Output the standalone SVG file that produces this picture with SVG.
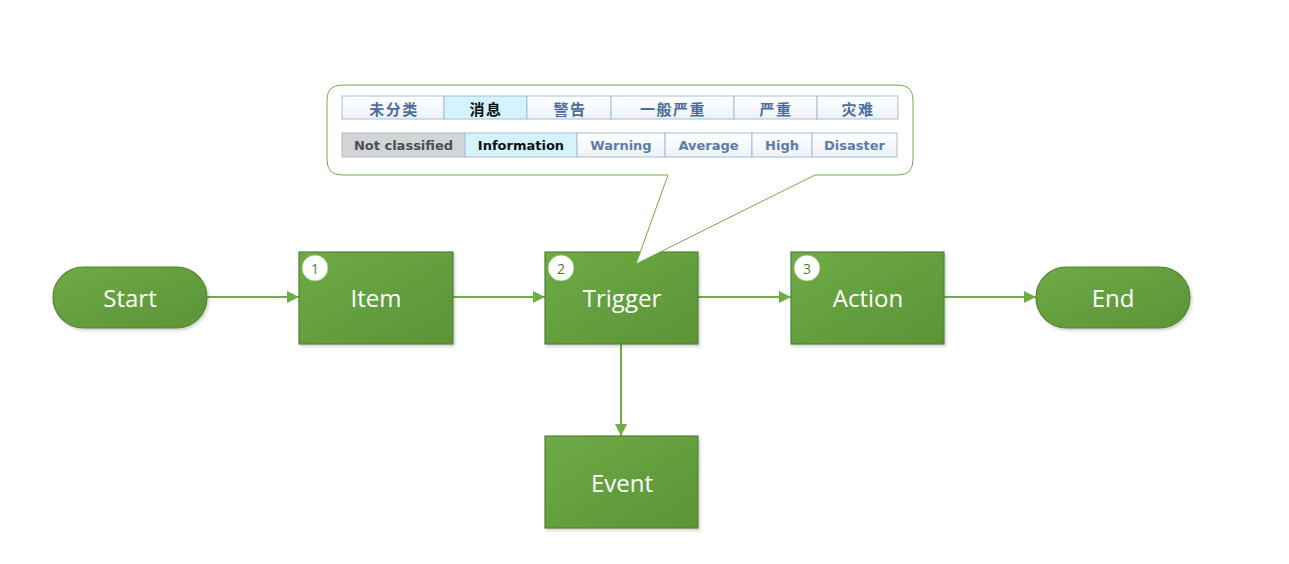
<svg xmlns="http://www.w3.org/2000/svg" width="1289" height="564" viewBox="0 0 1289 564">
<defs>
<linearGradient id="g" x1="0" y1="0" x2="1" y2="1">
<stop offset="0" stop-color="#6dab45"/>
<stop offset="1" stop-color="#5c9338"/>
</linearGradient>
<linearGradient id="cell" x1="0" y1="0" x2="0" y2="1">
<stop offset="0" stop-color="#ffffff"/>
<stop offset="1" stop-color="#edf2f8"/>
</linearGradient>
<filter id="sh" x="-10%" y="-10%" width="130%" height="130%">
<feDropShadow dx="1.5" dy="2" stdDeviation="1.5" flood-color="#000" flood-opacity="0.18"/>
</filter>
<marker id="arr" viewBox="0 0 12 12" refX="12" refY="6" markerWidth="12" markerHeight="12" markerUnits="userSpaceOnUse" orient="auto">
<path d="M0,0 L12,6 L0,12 z" fill="#70ad47"/>
</marker>
<style>
.node{fill:url(#g);stroke:#548235;stroke-width:1.2;filter:url(#sh)}
.lbl{font-family:"Open Sans","Noto Sans",sans-serif;font-size:24px;fill:#ffffff;text-anchor:middle;dominant-baseline:central}
.badge{fill:#ffffff;stroke:#8fbf6f;stroke-width:0.8}
.num{font-family:"Open Sans","Noto Sans",sans-serif;font-size:14px;fill:#4d7d2e;text-anchor:middle;dominant-baseline:central}
.conn{stroke:#70ad47;stroke-width:2;fill:none;marker-end:url(#arr)}
.c{fill:url(#cell);stroke:#a9bdd6;stroke-width:1}
.zh{font-family:"Noto Sans CJK SC",sans-serif;font-weight:bold;font-size:15px;letter-spacing:1.5px;fill:#4d6f9c;text-anchor:middle;dominant-baseline:central}
.en{font-family:"DejaVu Sans","Noto Sans",sans-serif;font-weight:bold;font-size:13px;fill:#5a7ca8;text-anchor:middle;dominant-baseline:central}
</style>
</defs>
<rect width="1289" height="564" fill="#ffffff"/>

<g id="connectors">
<line class="conn" x1="207" y1="297" x2="299" y2="297"/>
<line class="conn" x1="453" y1="297" x2="545" y2="297"/>
<line class="conn" x1="698" y1="297" x2="791" y2="297"/>
<line class="conn" x1="944" y1="297" x2="1036" y2="297"/>
<line class="conn" x1="621" y1="344" x2="621" y2="436"/>
</g>

<g id="start">
<rect class="node" x="53" y="267" width="154" height="61" rx="30.5"/>
<text class="lbl" x="130" y="297">Start</text>
</g>
<g id="item">
<rect class="node" x="299" y="252" width="154" height="92"/>
<circle class="badge" cx="315" cy="268" r="13"/>
<text class="num" x="315" y="268">1</text>
<text class="lbl" x="376" y="297">Item</text>
</g>
<g id="trigger">
<rect class="node" x="545" y="252" width="153" height="92"/>
<circle class="badge" cx="561" cy="268" r="13"/>
<text class="num" x="561" y="268">2</text>
<text class="lbl" x="622" y="297">Trigger</text>
</g>
<g id="action">
<rect class="node" x="791" y="252" width="153" height="92"/>
<circle class="badge" cx="807" cy="268" r="13"/>
<text class="num" x="807" y="268">3</text>
<text class="lbl" x="868" y="297">Action</text>
</g>
<g id="end">
<rect class="node" x="1036" y="267" width="154" height="61" rx="30.5"/>
<text class="lbl" x="1113" y="297">End</text>
</g>
<g id="event">
<rect class="node" x="545" y="436" width="153" height="92"/>
<text class="lbl" x="622" y="482">Event</text>
</g>

<g id="callout">
<path d="M342,85 H898 Q913,85 913,100 V160 Q913,175 898,175 H815 L636,264 L668,175 H342 Q327,175 327,160 V100 Q327,85 342,85 Z" fill="#ffffff" stroke="#70ad47" stroke-width="1"/>
<rect class="c" x="342" y="96" width="102" height="23"/>
<rect x="444" y="96" width="83" height="23" fill="#d5f3fc" stroke="#a9bdd6" stroke-width="1"/>
<rect class="c" x="527" y="96" width="84" height="23"/>
<rect class="c" x="611" y="96" width="123" height="23"/>
<rect class="c" x="734" y="96" width="83" height="23"/>
<rect class="c" x="817" y="96" width="81" height="23"/>
<text class="zh" x="394" y="108">未分类</text>
<text class="zh" x="486" y="108" style="fill:#111111">消息</text>
<text class="zh" x="570" y="108">警告</text>
<text class="zh" x="673" y="108">一般严重</text>
<text class="zh" x="776" y="108">严重</text>
<text class="zh" x="858" y="108">灾难</text>

<rect x="342" y="133" width="123" height="24" fill="#d4d4d4" stroke="#a9bdd6" stroke-width="1"/>
<rect x="465" y="133" width="112" height="24" fill="#d5f3fc" stroke="#a9bdd6" stroke-width="1"/>
<rect class="c" x="577" y="133" width="88" height="24"/>
<rect class="c" x="665" y="133" width="87" height="24"/>
<rect class="c" x="752" y="133" width="60" height="24"/>
<rect class="c" x="812" y="133" width="85" height="24"/>
<text class="en" x="403.5" y="145.5" style="fill:#4a4f58">Not classified</text>
<text class="en" x="521" y="145.5" style="fill:#111111">Information</text>
<text class="en" x="621" y="145.5">Warning</text>
<text class="en" x="708.5" y="145.5">Average</text>
<text class="en" x="782" y="145.5">High</text>
<text class="en" x="854.5" y="145.5">Disaster</text>
</g>
</svg>
